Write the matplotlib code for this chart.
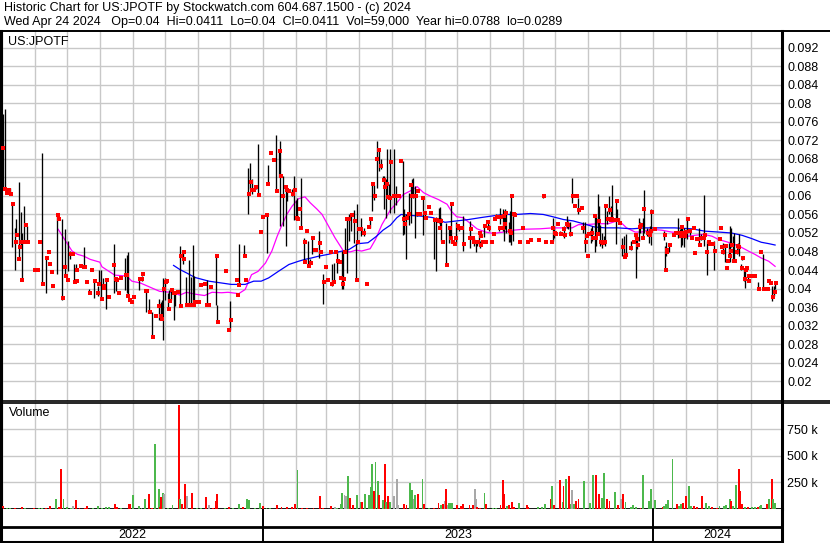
"""
Stockwatch-style historic chart for US:JPOTF: daily high/low bars with red
closes, two moving averages, and a volume panel underneath.
"""
from datetime import datetime

import matplotlib
matplotlib.use("Agg")
import matplotlib.pyplot as plt
import matplotlib.dates as mdates
from matplotlib.lines import Line2D
import numpy as np

plt.rcParams["font.family"] = ["Liberation Sans", "DejaVu Sans"]

# ---- data (days counted from 2022-05-01) ---------------------------------
START = datetime(2022, 5, 1)
LAST_DAY = 730

# days with a high/low range
bar_day = [
    1, 3, 8, 10, 13, 14, 16, 18, 19, 21, 24, 38, 42, 52, 57, 59, 62, 64, 68, 70,
    77, 82, 87, 90, 91, 93, 95, 98, 105, 107, 116, 117, 118, 129, 131, 135, 138, 141, 147, 149,
    150, 151, 153, 156, 157, 159, 161, 162, 167, 170, 173, 175, 177, 179, 180,
    192, 201, 202, 214, 222, 227, 231, 233, 234, 238, 240, 248, 249, 257, 260,
    261, 263, 266, 267, 272, 274, 276, 277, 280, 283, 287, 289, 291, 297, 301, 309,
    311, 314, 319, 320, 321, 323, 325, 327, 330, 332, 333, 336, 339, 345, 347, 349,
    351, 353, 355, 357, 358, 360, 361, 363,
    364, 367, 369, 376, 377, 379, 381, 383, 384, 385, 387, 389, 394, 396, 405, 407,
    409, 410, 411, 416, 419, 420, 421, 425, 428, 432, 438, 442, 444, 445, 447, 448,
    452, 455, 456, 463, 466, 467, 469, 470, 471, 472, 475, 476, 477, 479, 487, 507,
    516, 517, 523, 526, 529, 530, 532, 534, 540, 544, 546,
    552, 553, 555, 556, 558, 559, 560, 562, 564, 565, 567, 569, 570, 571, 575, 576,
    581, 583, 584, 589, 593, 594, 595, 597, 598, 600, 601, 604, 606, 607, 608, 620,
    621, 622, 625, 633, 635, 636, 637, 639, 640, 642, 644, 653, 655, 657, 660, 667,
    675, 677, 681, 682, 683, 685, 686, 688, 689, 690, 692, 693, 695, 696, 699, 708,
    713, 721, 723, 724,
]
bar_hi = [
    .0776, .0788, .0616, .0583, .0531, .0551, .0631, .0565, .0519, .0579, .0535, .0692, .0466, .0560, .0551, .0528, .0502, .0481, .0452, .0454,
    .0490, .0400, .0416, .0405, .0440, .0440, .0422, .0419, .0497, .0423, .0465, .0472, .0479, .0423, .0427, .0398, .0378, .0349, .0378, .0371,
    .0376, .0422, .0422, .0391, .0398, .0400, .0392, .0392, .0492, .0481, .0425, .0461, .0425, .0493, .0427,
    .0419, .0471, .0364, .0373, .0497, .0494, .0661, .0672, .0636, .0623, .0711, .0560, .0666, .0731, .0702,
    .0719, .0643, .0623, .0618, .0614, .0644, .0592, .0596, .0639, .0510, .0502, .0464, .0511, .0525, .0432, .0452,
    .0456, .0481, .0481, .0481, .0531, .0553, .0560, .0556, .0569, .0499, .0582, .0553, .0531, .0553, .0625, .0623,
    .0719, .0702, .0679, .0643, .0644, .0636, .0701, .0625,
    .0701, .0701, .0621, .0675, .0571, .0560, .0607, .0625, .0636, .0638, .0621, .0564, .0600, .0565, .0549, .0555,
    .0574, .0577, .0553, .0542, .0531, .0531, .0582, .0543, .0536, .0556, .0546, .0510, .0502, .0502, .0522, .0502,
    .0538, .0543, .0538, .0560, .0531, .0574, .0572, .0556, .0571, .0564, .0543, .0567, .0601, .0560, .0535, .0601,
    .0553, .0535, .0524, .0535, .0556, .0546, .0543, .0639, .0596, .0543, .0543,
    .0531, .0535, .0558, .0556, .0605, .0578, .0538, .0520, .0513, .0582, .0567, .0600, .0578, .0623, .0592, .0571,
    .0510, .0513, .0517, .0502, .0520, .0513, .0510, .0553, .0543, .0553, .0613, .0531, .0528, .0535, .0571, .0524,
    .0491, .0500, .0495, .0553, .0528, .0535, .0535, .0531, .0524, .0551, .0528, .0531, .0517, .0601, .0502, .0502,
    .0499, .0495, .0499, .0535, .0531, .0513, .0520, .0492, .0499, .0517, .0452, .0470, .0445, .0441, .0430, .0414,
    .0474, .0405, .0405, .0411,
]
bar_lo = [
    .0618, .0614, .0603, .0489, .0440, .0513, .0463, .0491, .0419, .0499, .0500, .0409, .0391, .0432, .0376, .0430, .0438, .0463, .0412, .0437,
    .0445, .0388, .0380, .0383, .0409, .0378, .0400, .0356, .0391, .0394, .0398, .0391, .0383, .0398, .0416, .0349, .0349, .0295, .0333, .0333,
    .0333, .0289, .0376, .0356, .0373, .0376, .0333, .0363, .0363, .0452, .0365, .0365, .0364, .0365, .0364,
    .0364, .0364, .0327, .0311, .0405, .0469, .0560, .0614, .0605, .0614, .0603, .0477, .0625, .0608, .0640,
    .0535, .0535, .0492, .0589, .0600, .0549, .0549, .0551, .0531, .0457, .0448, .0452, .0474, .0466, .0367, .0405,
    .0412, .0434, .0399, .0399, .0477, .0434, .0502, .0524, .0499, .0419, .0500, .0513, .0513, .0531, .0567, .0592,
    .0618, .0654, .0657, .0632, .0571, .0553, .0597, .0596,
    .0564, .0564, .0580, .0515, .0517, .0463, .0538, .0542, .0600, .0596, .0510, .0556, .0515, .0551, .0463, .0437,
    .0542, .0528, .0502, .0448, .0499, .0506, .0499, .0499, .0524, .0481, .0488, .0492, .0479, .0492, .0497, .0488,
    .0512, .0536, .0524, .0553, .0524, .0540, .0524, .0502, .0528, .0520, .0500, .0500, .0495, .0502, .0528, .0596,
    .0502, .0510, .0515, .0510, .0531, .0528, .0513, .0585, .0560, .0520, .0479,
    .0499, .0502, .0479, .0492, .0517, .0517, .0492, .0488, .0499, .0492, .0540, .0560, .0545, .0546, .0497, .0549,
    .0470, .0468, .0473, .0484, .0510, .0423, .0486, .0502, .0520, .0510, .0520, .0513, .0499, .0513, .0494, .0505,
    .0437, .0470, .0479, .0510, .0513, .0489, .0494, .0489, .0510, .0506, .0515, .0494, .0505, .0492, .0430, .0440,
    .0475, .0457, .0471, .0457, .0490, .0459, .0460, .0474, .0485, .0471, .0440, .0462, .0416, .0401, .0420, .0399,
    .0398, .0373, .0383, .0400,
]
bar_close = [
    .0704, .0614, .0605, .0582, .0500, .0515, .0463, .0500, .0419, .0500, .0500, .0410, .0465, .0558, .0379, .0446, .0419, .0474, .0415, .0441,
    .0446, .0391, .0416, .0390, .0410, .0378, .0405, .0419, .0450, .0420, .0430, .0430, .0385, .0420, .0420, .0394, .0349, .0295, .0363, .0340,
    .0335, .0400, .0415, .0356, .0373, .0398, .0391, .0391, .0363, .0463, .0365, .0364, .0364, .0364, .0364,
    .0364, .0471, .0327, .0332, .0407, .0470, .0605, .0630, .0612, .0620, .0603, .0558, .0625, .0610, .0697,
    .0643, .0600, .0620, .0612, .0605, .0612, .0553, .0551, .0531, .0457, .0448, .0455, .0510, .0499, .0414, .0410,
    .0415, .0460, .0410, .0420, .0480, .0551, .0551, .0558, .0546, .0419, .0500, .0528, .0520, .0551, .0625, .0600,
    .0679, .0699, .0665, .0634, .0620, .0625, .0598, .0596,
    .0673, .0600, .0600, .0550, .0540, .0553, .0560, .0623, .0600, .0600, .0600, .0562, .0595, .0564, .0549, .0549,
    .0546, .0530, .0546, .0450, .0531, .0510, .0582, .0510, .0530, .0497, .0510, .0500, .0500, .0500, .0520, .0495,
    .0535, .0543, .0530, .0555, .0531, .0555, .0530, .0556, .0540, .0564, .0524, .0520, .0600, .0560, .0531, .0600,
    .0530, .0520, .0518, .0528, .0540, .0538, .0518, .0600, .0569, .0530, .0500,
    .0520, .0510, .0556, .0510, .0517, .0546, .0500, .0499, .0500, .0579, .0550, .0569, .0549, .0550, .0589, .0549,
    .0489, .0468, .0473, .0487, .0515, .0506, .0495, .0533, .0538, .0510, .0571, .0520, .0515, .0525, .0566, .0515,
    .0440, .0480, .0494, .0520, .0513, .0533, .0520, .0513, .0522, .0551, .0525, .0494, .0510, .0510, .0480, .0481,
    .0480, .0492, .0471, .0481, .0495, .0459, .0460, .0480, .0492, .0490, .0445, .0465, .0420, .0441, .0428, .0399,
    .0399, .0381, .0392, .0411,
]

# days that traded at a single price (close only)
dot_day = [
    5, 6, 7, 17, 23, 31, 34, 36, 44, 45, 47, 48, 54, 60, 66, 67, 71, 74, 78, 80,
    85, 96, 99, 101, 108, 110, 112, 120, 122, 124, 132, 136, 145, 155, 165, 168, 171,
    181, 185, 187, 190, 194, 196, 210, 213, 220, 221, 229, 236, 243, 245, 252, 255, 269,
    279, 284, 286, 293, 294, 299, 302, 304, 306, 308, 313, 317, 318, 335, 342, 344,
    372, 374, 390, 392, 397, 400, 402, 413, 423, 424, 427, 431, 439, 441, 449, 451,
    453, 459, 461, 462, 481, 485, 493, 496, 503, 510, 515, 519, 521, 527, 536, 537, 539, 543,
    548, 549, 550, 572, 574, 579, 592, 612, 623, 629, 631, 646, 648, 649, 651, 652,
    658, 662, 663, 666, 672, 673, 674, 679, 680, 698, 700, 702, 705, 711, 717, 718, 720,
]
dot_close = [
    .0607, .0610, .0612, .0489, .0537, .0440, .0440, .0500, .0479, .0453, .0435, .0405, .0551, .0427, .0474, .0474, .0417, .0448, .0446, .0414,
    .0440, .0401, .0419, .0381, .0419, .0391, .0422, .0376, .0370, .0381, .0432, .0394, .0340, .0416, .0392, .0470, .0479,
    .0371, .0371, .0407, .0410, .0364, .0403, .0437, .0311, .0419, .0387, .0419, .0612, .0522, .0554, .0692, .0677, .0610,
    .0571, .0500, .0524, .0484, .0484, .0479, .0414, .0446, .0419, .0479, .0479, .0457, .0422, .0528, .0410, .0533,
    .0600, .0675, .0610, .0560, .0553, .0576, .0564, .0500, .0500, .0497, .0536, .0531, .0528, .0510, .0513, .0500,
    .0500, .0500, .0518, .0551, .0558, .0500, .0500, .0505, .0505, .0500, .0500, .0518, .0540, .0515, .0600, .0579, .0600, .0574,
    .0513, .0470, .0517, .0549, .0549, .0542, .0500, .0529, .0484, .0515, .0520, .0510, .0531, .0476, .0506, .0506,
    .0515, .0500, .0497, .0497, .0506, .0531, .0490, .0445, .0459, .0445, .0416, .0427, .0427, .0479, .0399, .0416, .0412,
]

# short moving average (magenta)
ma_short_day = [
    53, 61, 66, 71, 77, 83, 92, 94, 98, 106, 117, 122, 130, 139, 148, 158, 167, 173, 181, 190,
    197, 206, 212, 222, 228, 234, 240, 247, 253, 258, 262, 267, 272, 278, 284, 289, 295, 300, 306, 312,
    320, 326, 332, 337, 345, 350, 356, 364, 370, 376, 382, 389, 395, 401, 409, 417, 421, 426, 432, 438,
    445, 453, 460, 470, 479, 488, 504, 516, 526, 534, 540, 546, 559, 568, 576, 580, 585, 593, 599, 608,
    618, 627, 637, 643, 649, 657, 665, 671, 680, 690, 699, 705, 711, 718, 724,
]
ma_short = [
    .0528, .0499, .0481, .0474, .0470, .0463, .0457, .0447, .0441, .0429, .0427, .0416, .0412, .0403, .0394, .0392, .0386, .0392, .0388, .0385,
    .0392, .0391, .0392, .0389, .0398, .0430, .0437, .0455, .0481, .0513, .0535, .0560, .0578, .0594, .0598, .0585, .0572, .0560, .0535, .0510,
    .0481, .0479, .0483, .0481, .0486, .0506, .0538, .0570, .0585, .0603, .0610, .0620, .0607, .0600, .0592, .0582, .0567, .0555, .0553, .0542,
    .0529, .0522, .0519, .0522, .0526, .0528, .0529, .0531, .0531, .0531, .0538, .0538, .0540, .0540, .0546, .0542, .0531, .0522, .0522, .0528,
    .0526, .0522, .0520, .0513, .0515, .0517, .0513, .0506, .0500, .0492, .0481, .0474, .0466, .0459, .0448,
]

# long moving average (blue)
ma_long_day = [
    161, 167, 173, 181, 194, 206, 215, 228, 236, 243, 250, 259, 269, 278, 284, 290, 297, 306, 315, 325,
    334, 343, 351, 357, 364, 370, 374, 382, 395, 404, 415, 426, 437, 448, 457, 470, 482, 495, 507, 516,
    526, 535, 546, 555, 565, 577, 590, 602, 615, 630, 646, 658, 671, 683, 693, 702, 711, 718, 724,
]
ma_long = [
    .0450, .0441, .0434, .0424, .0416, .0412, .0409, .0409, .0416, .0416, .0423, .0437, .0452, .0459, .0463, .0466, .0470, .0474, .0479, .0484,
    .0497, .0499, .0513, .0526, .0537, .0553, .0560, .0558, .0556, .0553, .0543, .0546, .0549, .0553, .0556, .0560, .0560, .0562, .0560, .0555,
    .0549, .0546, .0539, .0533, .0531, .0531, .0529, .0531, .0531, .0531, .0529, .0524, .0522, .0520, .0515, .0508, .0500, .0497, .0494,
]

# volume (thousands of shares); r = down, g = up, n = unchanged
vol_day = [
    1, 5, 8, 13, 19, 22, 30, 35, 38, 42, 45, 51, 54, 56, 58, 61, 65, 67, 70, 73,
    78, 80, 86, 90, 94, 98, 101, 106, 108, 112, 119, 120, 123, 129, 131, 134, 138, 141, 144, 147,
    148, 149, 151, 152, 156, 160, 166, 167, 169, 172, 174, 178, 183, 187, 191, 194, 198, 201, 202, 209,
    213, 217, 222, 226, 230, 232, 237, 242, 245, 248, 251, 258, 262, 267, 272, 275, 277, 281, 286, 292,
    298, 301, 308, 312, 314, 318, 319, 321, 322, 324, 326, 329, 333, 336, 337, 340, 344, 346, 347, 349,
    350, 352, 353, 357, 359, 360, 362, 364, 367, 370, 371, 377, 379, 382, 384, 386, 387, 390,
    394, 395, 400, 405, 409, 411, 413, 415, 416, 418, 419, 421, 422, 426, 430, 432, 438, 441, 443, 444,
    445, 448, 452, 453, 460, 463, 467, 469, 470, 473, 475, 478, 480, 484, 492, 493, 502, 506, 509, 514,
    515, 517, 523, 525, 526, 528, 531, 533, 534, 536, 538, 540, 545, 551, 554, 556, 559, 562, 564, 567,
    569, 574, 577, 580, 582, 584, 589, 591, 594, 598, 600, 606, 608, 612, 619, 620, 622, 624, 628, 632,
    634, 636, 638, 641, 643, 645, 648, 651, 656, 659, 662, 665, 670, 672, 676, 678, 682, 683, 685, 687,
    690, 691, 693, 696, 699, 702, 705, 708, 710, 711, 716, 718, 721, 722, 724,
]
vol_k = [
    25, 10, 10, 10, 16, 10, 10, 10, 10, 10, 25, 91, 16, 374, 91, 16, 10, 25, 82, 10,
    10, 25, 10, 25, 10, 16, 16, 44, 16, 10, 50, 50, 129, 25, 10, 91, 145, 10, 607, 186,
    16, 113, 151, 138, 10, 35, 978, 91, 47, 233, 120, 148, 10, 10, 113, 35, 10, 72, 138, 10,
    16, 10, 44, 16, 97, 88, 10, 53, 25, 10, 10, 35, 16, 16, 16, 50, 365, 10, 10, 10,
    120, 10, 25, 16, 10, 50, 154, 129, 120, 308, 107, 35, 129, 63, 63, 142, 135, 208, 421, 173,
    440, 261, 135, 88, 428, 66, 120, 63, 120, 286, 35, 50, 35, 248, 182, 91, 135, 138,
    286, 50, 10, 13, 60, 35, 50, 72, 186, 41, 60, 60, 60, 41, 25, 44, 35, 35, 192, 97,
    16, 10, 154, 50, 13, 10, 41, 270, 145, 25, 35, 66, 19, 60, 35, 19, 19, 16, 44, 97,
    214, 41, 277, 66, 214, 286, 308, 50, 176, 44, 72, 97, 261, 57, 324, 324, 138, 107, 343, 91,
    75, 160, 35, 97, 138, 66, 16, 35, 16, 10, 318, 72, 192, 88, 16, 25, 50, 82, 475, 50,
    25, 50, 60, 120, 214, 25, 25, 19, 120, 57, 25, 16, 13, 25, 25, 35, 91, 72, 25, 223,
    374, 167, 50, 16, 16, 19, 16, 16, 25, 35, 50, 97, 280, 97, 60,
]
vol_dir = list(
    "rggrrgrggrrgrrgggnrr"
    "rrgggggrrgrrggggrrgg"
    "rrgnggrgrrnrggrnrrrg"
    "rggrggggrggrrrrrgrrr"
    "rrrngggnngrrggrggggr"
    "ggrgrgrgnnnrrggngr"
    "grgrrgrnrngggrrrrrnn"
    "rrgrggrrrgrrrgrrgggr"
    "grrgrgrgngrrgggrrggr"
    "rgrnrggggrggggrggggr"
    "ggrrggrrrggrrggggrgg"
    "rrrgrggrggrgrgg"
)

BAR_UP, BAR_DOWN, BAR_FLAT = "#4cb84c", "#ff0000", "#a8a8a8"

# ---- layout helpers -------------------------------------------------------
W, H = 830, 543


def box(left, top, right, bottom):
    """Pixel box (from the top-left corner) -> figure fraction rect."""
    return [left / W, 1 - bottom / H, (right - left) / W, (bottom - top) / H]


def hline_px(x0, x1, y, lw):
    fig.add_artist(Line2D([x0 / W, x1 / W], [1 - y / H, 1 - y / H],
                          color="black", lw=lw, solid_capstyle="butt"))


base = mdates.date2num(START)
x_bar = base + np.array(bar_day)
x_dot = base + np.array(dot_day)
x_vol = base + np.array(vol_day)
xlim = (base - 0.5, base + LAST_DAY)

fig = plt.figure(figsize=(W / 100, H / 100), dpi=100)
fig.patch.set_facecolor("white")

grid_kw = dict(color="#c8c8c8", lw=1.0)

# ---- price panel ----------------------------------------------------------
ax_p = fig.add_axes(box(1, 30.5, 781.5, 400.7))
ax_p.plot(base + np.array(ma_short_day), ma_short, color="#ff00ff", lw=0.9, zorder=2)
ax_p.plot(base + np.array(ma_long_day), ma_long, color="#0000ff", lw=0.9, zorder=2)
ax_p.vlines(x_bar, bar_lo, bar_hi, color="black", lw=0.95, zorder=3)
ax_p.plot(x_bar + 0.6, bar_close, "s", color="#ff0000", ms=2.4, mew=0, zorder=4)
ax_p.plot(x_dot, dot_close, "s", color="#ff0000", ms=2.4, mew=0, zorder=4)

ax_p.set_xlim(*xlim)
ax_p.set_ylim(0.0158, 0.0957)
price_ticks = np.arange(20, 93, 4) / 1000
ax_p.set_yticks(price_ticks)
ax_p.set_yticklabels([f"{t:.3f}".rstrip("0") for t in price_ticks])
ax_p.yaxis.tick_right()
ax_p.tick_params(axis="y", length=0, pad=4, labelsize=9)
ax_p.xaxis.set_major_locator(mdates.MonthLocator())
ax_p.tick_params(axis="x", length=0, labelbottom=False)
ax_p.grid(True, **grid_kw)
ax_p.set_axisbelow(True)
for side, lw in (("left", 2.2), ("top", 1.4), ("right", 2.2), ("bottom", 1.2)):
    ax_p.spines[side].set_linewidth(lw)

# ---- volume panel ---------------------------------------------------------
ax_v = fig.add_axes(box(1, 402.7, 781.5, 509))
colours = [{"r": BAR_DOWN, "g": BAR_UP, "n": BAR_FLAT}[c] for c in vol_dir]
ax_v.bar(x_vol, np.array(vol_k) * 1000, width=1.8, color=colours, lw=0, zorder=3)
ax_v.set_xlim(*xlim)
ax_v.set_ylim(0, 1.0e6)
ax_v.set_yticks([250000, 500000, 750000])
ax_v.set_yticklabels(["250 k", "500 k", "750 k"])
ax_v.yaxis.tick_right()
ax_v.tick_params(axis="y", length=0, pad=4, labelsize=9)
ax_v.xaxis.set_major_locator(mdates.MonthLocator())
ax_v.tick_params(axis="x", length=0, labelbottom=False)
ax_v.grid(True, **grid_kw)
ax_v.set_axisbelow(True)
for side, lw in (("left", 2.2), ("top", 1.2), ("right", 2.2), ("bottom", 2.0)):
    ax_v.spines[side].set_linewidth(lw)

# ---- date strip -----------------------------------------------------------
ax_d = fig.add_axes(box(1, 509, 781.5, 542))
ax_d.set_xlim(*xlim)
ax_d.set_ylim(0, 1)
ax_d.set_xticks([])
ax_d.set_yticks([])
ax_d.spines["top"].set_visible(False)
for side in ("left", "right", "bottom"):
    ax_d.spines[side].set_linewidth(2.2)
ax_d.axhline(0.455, color="black", lw=2.0)
year_edges = [xlim[0], mdates.date2num(datetime(2023, 1, 1)),
              mdates.date2num(datetime(2024, 1, 1)), xlim[1]]
for x in year_edges[1:-1]:
    ax_d.axvline(x, color="black", lw=1.4)
for year, x0, x1 in zip(["2022", "2023", "2024"], year_edges[:-1], year_edges[1:]):
    ax_d.text((x0 + x1) / 2, 0.2, year, ha="center", va="center", fontsize=9)

# lines that run on through the right-hand label column
hline_px(781.5, W, 30.5, 1.4)
hline_px(781.5, W, 400.7, 1.2)
hline_px(781.5, W, 402.7, 1.2)

# ---- header and panel titles ---------------------------------------------
fig.text(4 / W, 1 - 2 / H,
         "Historic Chart for US:JPOTF by Stockwatch.com 604.687.1500 - (c) 2024",
         ha="left", va="top", fontsize=9)
fig.text(4 / W, 1 - 16 / H,
         "Wed Apr 24 2024   Op=0.04  Hi=0.0411  Lo=0.04  Cl=0.0411  "
         "Vol=59,000  Year hi=0.0788  lo=0.0289",
         ha="left", va="top", fontsize=9)
fig.text(8 / W, 1 - 42 / H, "US:JPOTF", ha="left", va="center", fontsize=9)
fig.text(9 / W, 1 - 413 / H, "Volume", ha="left", va="center", fontsize=9)

fig.savefig("out.png", dpi=100, facecolor="white")
